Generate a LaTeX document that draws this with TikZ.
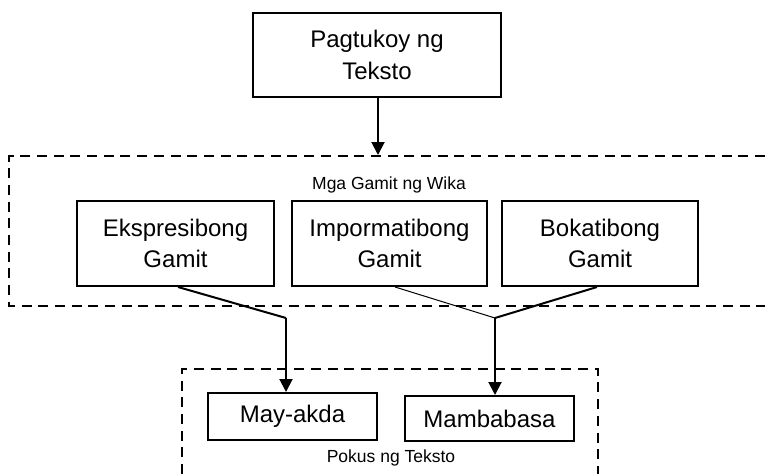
\documentclass[tikz,border=0pt]{standalone}
\usepackage{fontspec}
\setmainfont{Liberation Sans}
\usetikzlibrary{arrows.meta,positioning,calc}
\begin{document}
\begin{tikzpicture}[x=1pt,y=-1pt,
  box/.style={draw=black,line width=2pt,rectangle,align=center,inner sep=0pt,
    font=\fontsize{24}{31.5}\selectfont},
  grp/.style={draw=black,line width=2pt,dash pattern=on 10pt off 6.7pt},
  lbl/.style={font=\fontsize{17.5}{20}\selectfont,inner sep=0pt},
  thickline/.style={line width=2pt},
  thinline/.style={line width=1pt},
  arr/.style={line width=2pt,-{Triangle[width=13pt,length=13pt]}}]
\useasboundingbox (0,0) rectangle (765,474);
% groups
\draw[grp] (765,156) -- (9,156) -- (9,306) -- (765,306);
\draw[grp] (182,474) -- (182,369) -- (598,369) -- (598,474);
% nodes
\node[box,minimum width=248pt,minimum height=84pt] (top) at (377,55) {Pagtukoy ng\\Teksto};
\node[lbl] (wika) at (389,185) {Mga Gamit ng Wika};
\node[box,minimum width=197pt,minimum height=85pt] (eks) at (175.5,243.5) {Ekspresibong\\Gamit};
\node[box,minimum width=195pt,minimum height=85pt] (imp) at (389.5,243.5) {Impormatibong\\Gamit};
\node[box,minimum width=196pt,minimum height=85pt] (bok) at (600,243.5) {Bokatibong\\Gamit};
\node[box,minimum width=169pt,minimum height=47pt] (may) at (292.5,416.5) {May-akda};
\node[box,minimum width=169pt,minimum height=45pt] (mam) at (489.5,418.5) {Mambabasa};
\node[lbl] (pokus) at (391,458) {Pokus ng Teksto};
% connectors
\coordinate (topin) at (378,155);
\coordinate (j1) at (286,318);
\coordinate (j2) at (495,318);
\draw[arr] (top.south -| topin) -- (topin);
\draw[thickline] ([xshift=2.5pt]eks.south) -- (j1);
\draw[arr] (j1) -- (j1 |- may.north);
\draw[thinline] ([xshift=5.5pt]imp.south) -- (j2);
\draw[thickline] ([xshift=-3pt]bok.south) -- (j2);
\draw[arr] (j2) -- (j2 |- mam.north);
\end{tikzpicture}
\end{document}
